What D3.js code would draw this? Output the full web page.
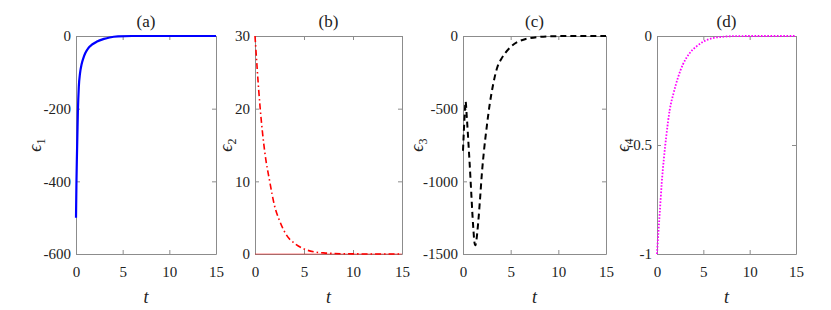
<!DOCTYPE html>
<html>
<head>
<meta charset="utf-8">
<script src="https://cdn.jsdelivr.net/npm/d3@7"></script>
</head>
<body style="margin:0">
<svg id="chart" width="831" height="310"></svg>
<script>
var fontName = "Liberation Serif";
var axisGray = "#8c8c8c";

// shared time axis
var tDomain = [0, 15];
var tTicks = [0, 5, 10, 15];

// panel (a) e1
var tA = [0, 0.05, 0.1, 0.15, 0.2, 0.3, 0.43, 0.6, 0.8, 1.0, 1.3, 1.7, 2.2, 3, 3.6, 4.5, 6, 8, 15];
var e1 = [-500, -400, -330, -270, -210, -140, -103, -78, -60, -47, -34, -24, -16, -8, -4, -1, 0, 0, 0];
var yTicksA = [0, -200, -400, -600];

// panel (b) e2
var tB = [0, 0.5, 1, 1.5, 2, 2.5, 3, 3.5, 4, 5, 6, 7, 8, 10, 12, 15];
var e2 = [30, 20.5, 14, 10, 6.6, 4.6, 3.1, 2.1, 1.5, 0.7, 0.3, 0.15, 0.07, 0.02, 0, 0];
var tB0 = [0, 15];
var e2Zero = [0, 0];
var yTicksB = [0, 10, 20, 30];

// panel (c) e3
var tC = [0, 0.1, 0.2, 0.27, 0.4, 0.5, 0.6, 0.7, 0.8, 0.9, 1.0, 1.1, 1.2, 1.3, 1.4, 1.5, 1.6, 1.8, 2.0, 2.2, 2.5, 2.8, 3.0, 3.3, 3.6, 4.0, 4.4, 5, 5.75, 6.5, 7.1, 8, 9, 10, 12, 15];
var e3 = [-790, -640, -510, -450, -560, -660, -770, -880, -1000, -1120, -1240, -1340, -1420, -1440, -1410, -1350, -1280, -1110, -930, -790, -620, -470, -390, -290, -215, -160, -120, -75, -40, -22, -14, -6, -2, -1, 0, 0];
var yTicksC = [0, -500, -1000, -1500];

// panel (d) e4
var tD = [0, 0.15, 0.3, 0.5, 0.75, 1.0, 1.37, 1.8, 2.27, 2.8, 3.5, 4.2, 5, 6, 7, 8, 10, 15];
var e4 = [-1, -0.9, -0.81, -0.68, -0.56, -0.46, -0.34, -0.26, -0.19, -0.13, -0.08, -0.05, -0.026, -0.01, -0.004, -0.001, 0, 0];
var yTicksD = [0, -0.5, -1];

var plotTop = 36;
var plotBottom = 254;

var panels = [
  { title: "(a)", sub: "1", x0: 76, x1: 216, yDomain: [-600, 0], yTicks: yTicksA, labelOff: 40,
    series: [{ t: tA, v: e1, color: "#0000ff", width: 2.2, dash: null }] },
  { title: "(b)", sub: "2", x0: 255, x1: 402, yDomain: [0, 30], yTicks: yTicksB, labelOff: 28,
    series: [{ t: tB0, v: e2Zero, color: "#ff0000", width: 1, dash: null, opacity: 0.5 },
             { t: tB, v: e2, color: "#ff0000", width: 1.6, dash: "6,3,1.5,3" }] },
  { title: "(c)", sub: "3", x0: 463, x1: 606, yDomain: [-1500, 0], yTicks: yTicksC, labelOff: 45,
    series: [{ t: tC, v: e3, color: "#000000", width: 2, dash: "6,4" }] },
  { title: "(d)", sub: "4", x0: 657, x1: 796, yDomain: [-1, 0], yTicks: yTicksD, labelOff: 33,
    series: [{ t: tD, v: e4, color: "#ff00ff", width: 1.8, dash: "1.6,1.6" }] }
];

var svg = d3.select("#chart");

function styleAxis(sel) {
  sel.attr("font-family", fontName).attr("font-size", 15);
  sel.selectAll("path, line").attr("stroke", axisGray).attr("stroke-width", 1);
  sel.selectAll("text").attr("fill", "#222");
}

panels.forEach(function(p) {
  var x = d3.scaleLinear().domain(tDomain).range([p.x0, p.x1]);
  var y = d3.scaleLinear().domain(p.yDomain).range([plotBottom, plotTop]);
  var g = svg.append("g").attr("font-family", fontName);

  // axes, ticks pointing inward on all four sides
  var bottom = g.append("g")
    .attr("transform", `translate(0, ${plotBottom})`)
    .call(d3.axisBottom(x).tickValues(tTicks).tickSizeInner(-4).tickSizeOuter(0).tickFormat(d => String(d)));
  styleAxis(bottom);
  bottom.selectAll("text").attr("y", 12).attr("dy", "0.71em");

  var top = g.append("g")
    .attr("transform", `translate(0, ${plotTop})`)
    .call(d3.axisTop(x).tickValues(tTicks).tickSizeInner(-4).tickSizeOuter(0).tickFormat(""));
  styleAxis(top);

  var left = g.append("g")
    .attr("transform", `translate(${p.x0}, 0)`)
    .call(d3.axisLeft(y).tickValues(p.yTicks).tickSizeInner(-4).tickSizeOuter(0).tickFormat(d => String(d)));
  styleAxis(left);
  left.selectAll("text").attr("x", -5);

  var right = g.append("g")
    .attr("transform", `translate(${p.x1}, 0)`)
    .call(d3.axisRight(y).tickValues(p.yTicks).tickSizeInner(-4).tickSizeOuter(0).tickFormat(""));
  styleAxis(right);

  // curves
  p.series.forEach(function(s) {
    var pts = s.t.map((t, i) => [t, s.v[i]]);
    var line = d3.line()
      .x(d => x(d[0]))
      .y(d => y(d[1]))
      .curve(d3.curveMonotoneX);
    g.append("path")
      .datum(pts)
      .attr("fill", "none")
      .attr("stroke", s.color)
      .attr("stroke-width", s.width)
      .attr("stroke-opacity", s.opacity || 1)
      .attr("stroke-dasharray", s.dash)
      .attr("d", line);
  });

  var cx = (p.x0 + p.x1) / 2;
  var cy = (plotTop + plotBottom) / 2;

  // title
  g.append("text")
    .attr("x", cx)
    .attr("y", 27)
    .attr("text-anchor", "middle")
    .attr("fill", "#222")
    .attr("font-family", fontName)
    .attr("font-size", 17)
    .text(p.title);

  // x label
  g.append("text")
    .attr("x", cx)
    .attr("y", 303)
    .attr("text-anchor", "middle")
    .attr("fill", "#222")
    .attr("font-family", fontName)
    .attr("font-size", 18)
    .attr("font-style", "italic")
    .text("t");

  // y label
  var yl = g.append("text")
    .attr("transform", `translate(${p.x0 - p.labelOff}, ${cy}) rotate(-90)`)
    .attr("text-anchor", "middle")
    .attr("dy", "0.3em")
    .attr("fill", "#222")
    .attr("font-family", fontName)
    .attr("font-size", 18)
    .attr("font-style", "italic");
  yl.append("tspan").text("ϵ");
  yl.append("tspan")
    .attr("dy", "0.3em")
    .attr("font-size", 12)
    .attr("font-style", "normal")
    .text(p.sub);
});
</script>
</body>
</html>
